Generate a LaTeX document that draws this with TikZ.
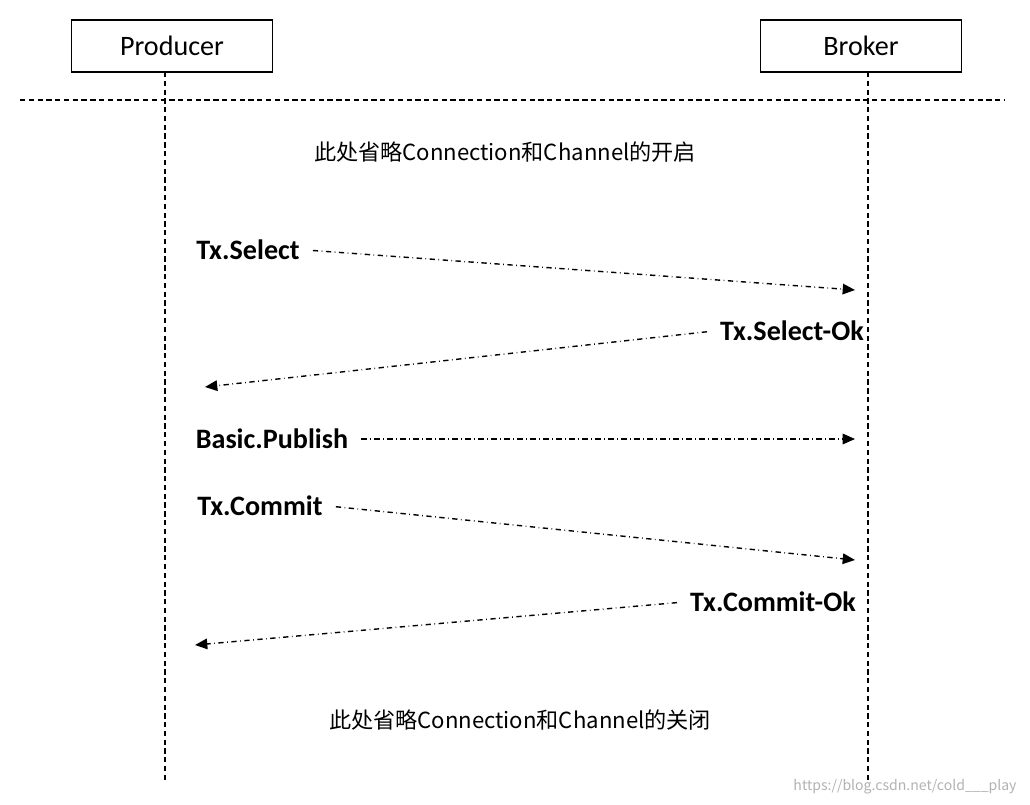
\documentclass[tikz,border=0pt]{standalone}
\usepackage{fontspec}
\setmainfont{Carlito}
\newfontfamily\cjk{Noto Sans CJK SC}
\usetikzlibrary{arrows.meta}
\begin{document}
\begin{tikzpicture}[x=0.02cm,y=-0.02cm,
  actor/.style={draw,line width=0.9pt,minimum width=4.02cm,minimum height=1.04cm,font=\fontsize{16}{18}\selectfont},
  life/.style={densely dashed,line width=0.8pt},
  msg/.style={dash dot,line width=0.8pt,shorten <=4pt,-{Triangle[length=7pt,width=6pt]}},
  lbl/.style={font=\fontsize{16}{18}\bfseries\selectfont},
  note/.style={font=\cjk\fontsize{12.6}{15}\selectfont}]
\useasboundingbox (0,0) rectangle (1030,804);
\node[actor] (P) at (172,46) {Producer};
\node[actor] (B) at (861,46) {Broker};
\coordinate (Pe) at (165,780); \coordinate (Be) at (868,780);
\draw[life] (165,72) -- (Pe);
\draw[life] (868,72) -- (Be);
\coordinate (L1) at (20,100); \coordinate (L2) at (1005,100);
\draw[densely dashed,line width=0.9pt] (L1) -- (L2);
\node[note] (n1) at (505,152) {此处省略Connection和Channel的开启};
\node[note] (n2) at (520,720) {此处省略Connection和Channel的关闭};
\node[lbl] (t1) at (248,250) {Tx.Select};
\node[lbl] (t2) at (792,331) {Tx.Select-Ok};
\node[lbl] (t3) at (272,439) {Basic.Publish};
\node[lbl] (t4) at (260,506) {Tx.Commit};
\node[lbl] (t5) at (773,602) {Tx.Commit-Ok};
\coordinate (a1) at (855,290); \coordinate (a2) at (205,387);
\coordinate (a3) at (855,439); \coordinate (a4) at (855,560);
\coordinate (a5) at (195,645);
\draw[msg] (t1.east) -- (a1);
\draw[msg] (t2.west) -- (a2);
\draw[msg] (t3.east) -- (a3);
\draw[msg] (t4.east) -- (a4);
\draw[msg] (t5.west) -- (a5);
\node[text=black!30,font=\fontsize{8}{10}\selectfont] (w) at (905,787) {\cjk https://blog.csdn.net/cold\_\_\_play};
\end{tikzpicture}
\end{document}
